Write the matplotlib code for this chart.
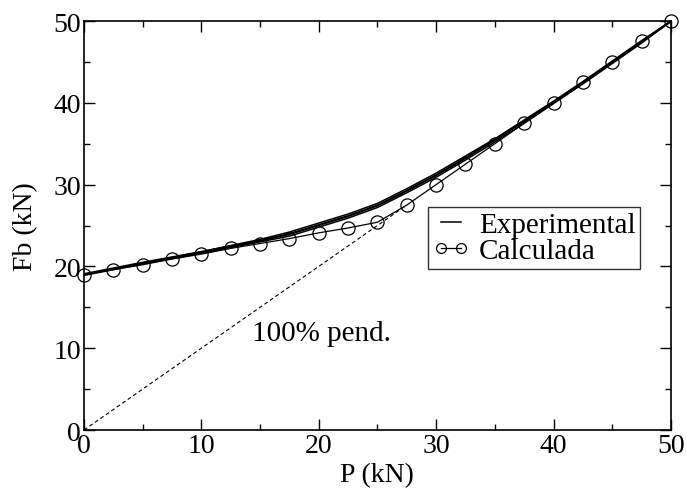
import matplotlib.pyplot as plt
from matplotlib.ticker import MultipleLocator

plt.rcParams["font.family"] = ["Liberation Serif", "DejaVu Serif"]

# Experimental curves (several overlapping tests)
exp_p = [0, 5, 10, 15, 17.5, 20, 22.5, 25, 27.5, 30, 32.5, 35, 37.5, 40, 42.5, 45, 47.5, 50]
exp_fb_1 = [19.0, 20.4, 21.7, 23.1, 23.9, 25.0, 26.1, 27.4, 29.2, 31.1, 33.2, 35.4, 37.7, 40.1, 42.5, 45.0, 47.5, 50.0]
exp_fb_2 = [19.1, 20.5, 21.8, 23.3, 24.2, 25.3, 26.4, 27.7, 29.5, 31.4, 33.5, 35.6, 37.9, 40.2, 42.6, 45.1, 47.6, 50.0]
exp_fb_3 = [18.9, 20.3, 21.6, 23.0, 23.7, 24.8, 25.9, 27.2, 29.0, 30.9, 33.0, 35.2, 37.5, 39.9, 42.3, 44.8, 47.3, 50.0]
exp_fb_4 = [19.0, 20.4, 21.8, 23.2, 24.0, 25.1, 26.2, 27.5, 29.3, 31.2, 33.3, 35.5, 37.8, 40.1, 42.5, 45.0, 47.4, 49.9]

# Calculated values
calc_p = [0, 2.5, 5, 7.5, 10, 12.5, 15, 17.5, 20, 22.5, 25, 27.5, 30, 32.5, 35, 37.5, 40, 42.5, 45, 47.5, 50]
calc_fb = [19.0, 19.6, 20.2, 20.9, 21.5, 22.2, 22.8, 23.4, 24.1, 24.7, 25.4, 27.5, 30.0, 32.5, 35.0, 37.5, 40.0, 42.5, 45.0, 47.5, 50.0]

# 100% pendulum reference line
pend_p = [0, 27.5]
pend_fb = [0, 27.5]

fig = plt.figure(figsize=(6.86, 4.89), dpi=100)
ax = fig.add_axes([0.1224, 0.1186, 0.8556, 0.8364])

for i, fb in enumerate([exp_fb_1, exp_fb_2, exp_fb_3, exp_fb_4]):
    ax.plot(exp_p, fb, color="black", lw=1.1, label="Experimental" if i == 0 else None)

ax.plot(calc_p, calc_fb, color="black", lw=0.9, marker="o", markersize=9.5,
        markerfacecolor="none", markeredgewidth=0.9, label="Calculada", clip_on=False)

ax.plot(pend_p, pend_fb, color="black", lw=0.8, linestyle=(0, (3.5, 2.5)))
ax.text(14.3, 11.0, "100% pend.", fontsize=21)

ax.set_xlim(0, 50)
ax.set_ylim(0, 50)
ax.xaxis.set_major_locator(MultipleLocator(10))
ax.xaxis.set_minor_locator(MultipleLocator(5))
ax.yaxis.set_major_locator(MultipleLocator(10))
ax.yaxis.set_minor_locator(MultipleLocator(5))
ax.tick_params(which="both", direction="in", top=True, right=True, labelsize=20, width=1)
ax.tick_params(which="major", length=8, pad=2)
ax.tick_params(which="minor", length=4.5)
for s in ax.spines.values():
    s.set_linewidth(1.2)

ax.set_xlabel("P (kN)", fontsize=20, labelpad=3)
ax.set_ylabel("Fb (kN)", fontsize=20, labelpad=11)

leg = ax.legend(loc="upper left", bbox_to_anchor=(0.586, 0.545), fontsize=21,
                frameon=True, fancybox=False, edgecolor="black", borderpad=0.15,
                handlelength=1.3, handletextpad=0.3, labelspacing=0.0, borderaxespad=0,
                numpoints=2, markerscale=0.75)
leg.get_frame().set_linewidth(1.0)

plt.savefig("out.png", dpi=100)
